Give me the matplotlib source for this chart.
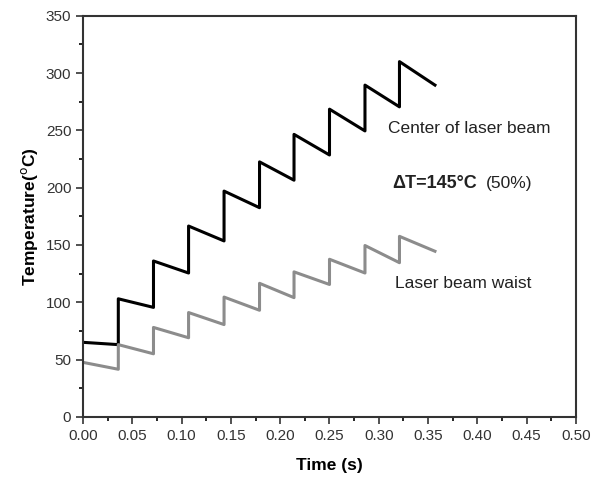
import matplotlib
matplotlib.use('Agg')
from matplotlib import pyplot as plt
from matplotlib.ticker import MultipleLocator

plt.rcParams['font.family'] = ['Liberation Sans', 'DejaVu Sans']

# time points (sawtooth: heating pulse every ~1/28 s)
time = [0.0, 0.0357, 0.0357, 0.0714, 0.0714, 0.107, 0.107, 0.143, 0.143,
        0.179, 0.179, 0.214, 0.214, 0.25, 0.25, 0.286, 0.286, 0.321, 0.321, 0.357]
center = [65, 63, 103, 95.5, 136, 125.5, 166.5, 153.5, 197, 182.5,
          222.5, 206.5, 246.5, 228.5, 268.5, 249.5, 289.5, 270.5, 310, 289.5]
waist = [47.5, 41.5, 63, 55, 78, 69, 91, 80.5, 104.5, 93,
         116.5, 104, 126.5, 115.5, 137.5, 125.5, 149.5, 134.5, 157.5, 144.5]

fig = plt.figure(figsize=(5.98, 4.78), dpi=100)
ax = fig.add_axes([0.139, 0.128, 0.824, 0.839])

ax.plot(time, center, color='black', lw=2.2)
ax.plot(time, waist, color='#8c8c8c', lw=2.2)

ax.set_xlim(0, 0.5)
ax.set_ylim(0, 350)
ax.xaxis.set_major_locator(MultipleLocator(0.05))
ax.xaxis.set_minor_locator(MultipleLocator(0.025))
ax.yaxis.set_major_locator(MultipleLocator(50))
ax.yaxis.set_minor_locator(MultipleLocator(25))
ax.xaxis.set_major_formatter(plt.FormatStrFormatter('%.2f'))
ax.tick_params(which='major', direction='out', length=5, width=1.2, labelsize=11, colors='#333333')
ax.tick_params(which='minor', direction='out', length=3, width=1.2)
for s in ax.spines.values():
    s.set_linewidth(1.5)
    s.set_color('#333333')

ax.set_xlabel('Time (s)', fontsize=12.5, fontweight='bold', labelpad=11)
ax.set_ylabel('Temperature($^{\\rm o}$C)', fontsize=12.5, fontweight='bold', labelpad=4)

ax.text(0.309, 252, 'Center of laser beam', fontsize=12.5, color='#222222', va='center')
ax.text(0.314, 204, 'ΔT=145°C', fontsize=13, fontweight='bold', color='#222222', va='center')
ax.text(0.409, 204, '(50%)', fontsize=12.5, color='#222222', va='center')
ax.text(0.316, 116, 'Laser beam waist', fontsize=12.5, color='#222222', va='center')

plt.savefig('out.png', dpi=100)
